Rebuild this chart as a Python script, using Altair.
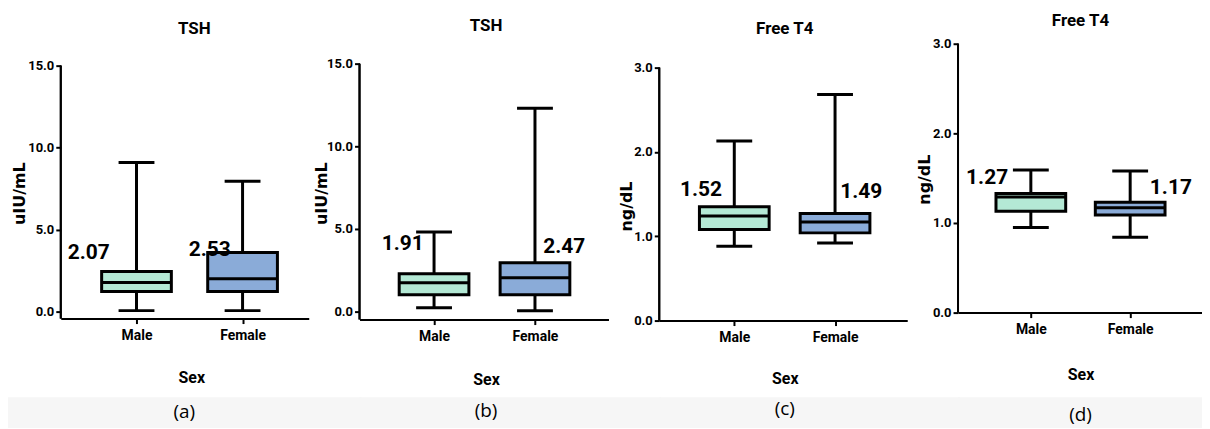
import altair as alt
import pandas as pd

# ---------------- data ----------------
sexes = ["Male", "Female"]
panel_titles = ["TSH", "TSH", "Free T4", "Free T4"]
y_units = ["uIU/mL", "uIU/mL", "ng/dL", "ng/dL"]
captions = ["(a)", "(b)", "(c)", "(d)"]

whisker_low = [[0.06, 0.06], [0.24, 0.05], [0.88, 0.92], [0.95, 0.84]]
q1 = [[1.23, 1.23], [1.02, 1.02], [1.08, 1.04], [1.13, 1.09]]
median = [[1.78, 2.00], [1.75, 2.05], [1.24, 1.17], [1.29, 1.17]]
q3 = [[2.45, 3.60], [2.29, 2.95], [1.35, 1.27], [1.33, 1.23]]
whisker_high = [[9.10, 7.95], [4.82, 12.30], [2.13, 2.68], [1.59, 1.58]]

value_labels = [["2.07", "2.53"], ["1.91", "2.47"], ["1.52", "1.49"], ["1.27", "1.17"]]
label_x = [[0.55, 1.69], [0.69, 2.29], [0.67, 2.26], [0.56, 2.41]]
label_y = [[3.58, 3.76], [4.10, 3.92], [1.55, 1.52], [1.505, 1.39]]

y_ticks = [[0, 5, 10, 15], [0, 5, 10, 15], [0, 1, 2, 3], [0, 1, 2, 3]]

# ---------------- layout / style ----------------
fills = ["#b4e9d5", "#8aabd8"]
BOLD = "Roboto, Liberation Sans, sans-serif"

widths = [249, 250, 249, 245]
heights = [276, 277, 278, 270]
y_domains = [[-0.425, 16.336], [-0.482, 16.205], [0.0, 3.283], [0.0, 3.0]]
x_domains = [[0.333, 2.577], [0.311, 2.679], [0.305, 2.667], [0.317, 2.673]]
title_pos = [(134, -15), (127, -18), (126, -15), (123, -23)]
ytitle_pos = [(-41, 150), (-38, 150), (-33, 163), (-34, 136)]
xtitle_pos = [(131, 59), (127, 60), (126, 58), (123, 62)]
caption_pos = [(124, 370), (127, 369), (126, 367), (123, 373)]
band_x = [(-53, 249 + 53), (0, 250 + 53), (0, 249 + 53), (0, 245)]


def panel(i):
    df = pd.DataFrame({
        "sex": sexes,
        "pos": [1, 2],
        "lo": whisker_low[i],
        "q1": q1[i],
        "med": median[i],
        "q3": q3[i],
        "hi": whisker_high[i],
        "label": value_labels[i],
        "lx": label_x[i],
        "ly": label_y[i],
    })
    base = alt.Chart(df)
    xs = alt.X(
        "pos:Q",
        scale=alt.Scale(domain=x_domains[i], nice=False, zero=False),
        axis=alt.Axis(
            values=[1, 2],
            labelExpr="datum.value == 1 ? 'Male' : 'Female'",
            title="Sex",
            grid=False,
            labelPadding=5,
            titleX=xtitle_pos[i][0],
            titleY=xtitle_pos[i][1],
            titleBaseline="middle",
            titleAlign="center",
        ),
    )
    ys = alt.Y(
        "lo:Q",
        scale=alt.Scale(domain=y_domains[i], nice=False, zero=False),
        axis=alt.Axis(
            values=y_ticks[i],
            format=".1f",
            title=y_units[i],
            grid=False,
            domain=False,
            titleX=ytitle_pos[i][0],
            titleY=ytitle_pos[i][1],
            titleBaseline="middle",
            titleAlign="center",
            titleAngle=270,
            titleFont="DejaVu Sans, sans-serif",
            titleFontSize=16,
            titleFontWeight="bold",
        ),
    )
    meta = pd.DataFrame({"t": [panel_titles[i]], "c": [captions[i]]})
    mbase = alt.Chart(meta)
    band = mbase.mark_rect(color="#f6f6f6").encode(
        x=alt.value(band_x[i][0]), x2=alt.value(band_x[i][1]),
        y=alt.value(355), y2=alt.value(386),
    )
    layers = [band]
    if i == 0:
        anchor = mbase.mark_rect(color="white").encode(
            x=alt.value(0), x2=alt.value(1), y=alt.value(-35), y2=alt.value(-34)
        )
        layers.append(anchor)
    yline = base.mark_rule(color="black", strokeWidth=2).encode(
        x=alt.value(0),
        y=alt.datum(y_domains[i][0]),
        y2=alt.datum(y_ticks[i][-1]),
    )
    whisk = base.mark_rule(color="black", strokeWidth=3).encode(x=xs, y=ys, y2="hi:Q")
    box = base.mark_bar(size=70, stroke="black", strokeWidth=3, opacity=1).encode(
        x="pos:Q",
        y="q1:Q",
        y2="q3:Q",
        color=alt.Color("sex:N", scale=alt.Scale(domain=sexes, range=fills), legend=None),
    )
    med = base.mark_tick(orient="horizontal", size=70, thickness=3, color="black", opacity=1).encode(
        x="pos:Q", y="med:Q"
    )
    cap_lo = base.mark_tick(orient="horizontal", size=36, thickness=3, color="black", opacity=1).encode(
        x="pos:Q", y="lo:Q"
    )
    cap_hi = base.mark_tick(orient="horizontal", size=36, thickness=3, color="black", opacity=1).encode(
        x="pos:Q", y="hi:Q"
    )
    labels = base.mark_text(
        font=BOLD, fontSize=21, fontWeight="bold", color="black", baseline="middle", align="center"
    ).encode(x="lx:Q", y="ly:Q", text="label:N")
    title = mbase.mark_text(
        font=BOLD, fontSize=17, fontWeight="bold", color="black", baseline="middle", align="center"
    ).encode(x=alt.value(title_pos[i][0]), y=alt.value(title_pos[i][1]), text="t:N")
    cap = mbase.mark_text(
        font="Open Sans, Noto Sans, sans-serif", fontSize=19, color="black", baseline="middle", align="center"
    ).encode(x=alt.value(caption_pos[i][0]), y=alt.value(caption_pos[i][1]), text="c:N")

    layers += [yline, whisk, box, med, cap_lo, cap_hi, labels, title, cap]
    return alt.layer(*layers).properties(width=widths[i], height=heights[i])


chart = (
    alt.hconcat(*[panel(i) for i in range(4)], spacing=51, bounds="flush")
    .properties(padding={"left": 0, "top": 0, "right": 0, "bottom": 0}, background="white")
    .configure_view(stroke=None)
    .configure_axis(
        domainColor="black",
        domainWidth=2,
        tickColor="black",
        tickWidth=2,
        tickSize=5,
        labelFont=BOLD,
        labelFontSize=14,
        labelFontWeight="bold",
        labelColor="black",
        titleFont=BOLD,
        titleFontSize=16,
        titleFontWeight="bold",
        titleColor="black",
    )
    .configure_axisY(labelFontSize=13, labelPadding=2)
)

chart.save("out.html", embed_options={"renderer": "svg", "actions": False})
